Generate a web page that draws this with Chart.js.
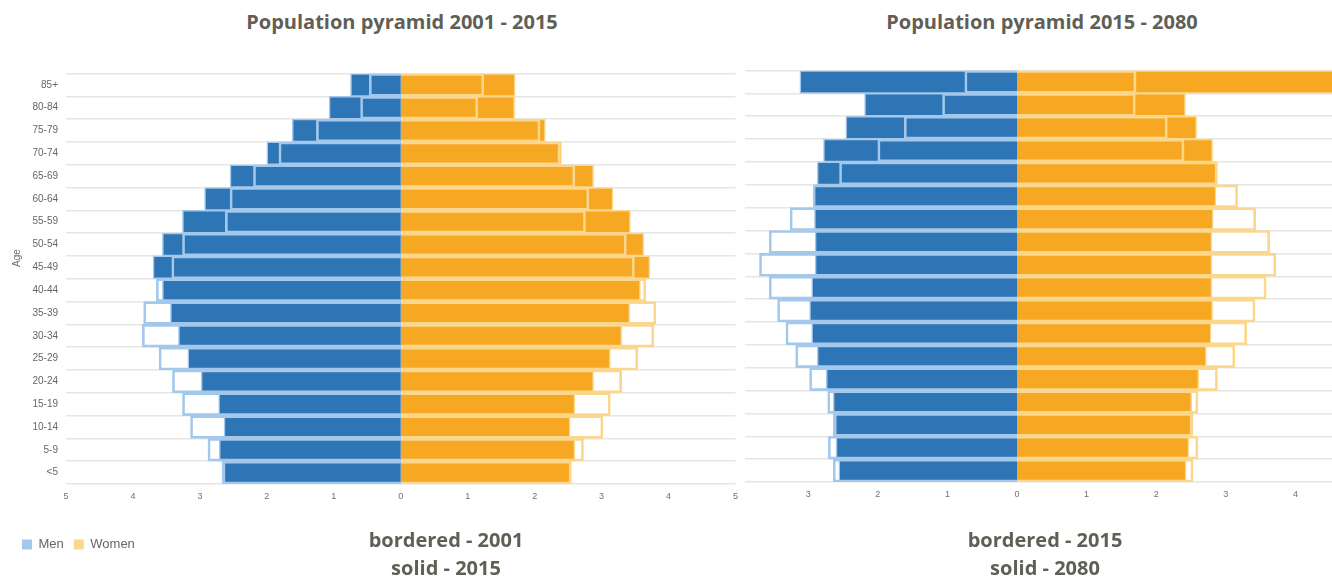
<!DOCTYPE html>
<html>
<head>
<meta charset="utf-8">
<script src="https://cdn.jsdelivr.net/npm/chart.js@4/dist/chart.umd.min.js"></script>
<style>
html,body{margin:0;padding:0;background:#fff;width:1332px;height:581px;overflow:hidden;}
#page{position:relative;width:1332px;height:581px;overflow:hidden;font-family:"Open Sans",sans-serif;}
.t{position:absolute;color:#5f5f56;font-weight:700;font-size:20px;white-space:nowrap;transform:translate(-50%,-50%);line-height:1;}
#leftWrap{position:absolute;left:0;top:0;width:745px;height:581px;}
#rightClip{position:absolute;left:745px;top:0;width:587px;height:581px;overflow:hidden;}
#rightWrap{position:absolute;left:-96px;top:0;width:726px;height:581px;}
</style>
</head>
<body>
<div id="page">
  <div class="t" style="left:402px;top:22px;">Population pyramid 2001 - 2015</div>
  <div class="t" style="left:1042px;top:22px;">Population pyramid 2015 - 2080</div>
  <div id="leftWrap"><canvas id="left"></canvas></div>
  <div id="rightClip"><div id="rightWrap"><canvas id="right"></canvas></div></div>
  <div class="t" style="left:446px;top:540px;">bordered - 2001</div>
  <div class="t" style="left:446px;top:568px;">solid - 2015</div>
  <div class="t" style="left:1045px;top:540px;">bordered - 2015</div>
  <div class="t" style="left:1045px;top:568px;">solid - 2080</div>
</div>
<script>
const ageGroups = ['85+','80-84','75-79','70-74','65-69','60-64','55-59','50-54','45-49','40-44','35-39','30-34','25-29','20-24','15-19','10-14','5-9','<5'];
const xTicks = [-5,-4,-3,-2,-1,0,1,2,3,4,5];

const men2001   = [0.47,0.60,1.26,1.82,2.20,2.55,2.62,3.26,3.42,3.65,3.84,3.86,3.61,3.41,3.26,3.14,2.88,2.67];
const women2001 = [1.24,1.15,2.08,2.38,2.60,2.81,2.76,3.37,3.49,3.66,3.81,3.78,3.54,3.30,3.13,3.02,2.73,2.55];
const men2015   = [0.75,1.07,1.62,2.00,2.55,2.93,3.26,3.56,3.70,3.56,3.44,3.32,3.18,2.98,2.72,2.64,2.71,2.64];
const women2015 = [1.71,1.70,2.16,2.40,2.88,3.17,3.43,3.63,3.72,3.58,3.42,3.30,3.13,2.88,2.60,2.53,2.60,2.53];
const men2080   = [3.12,2.19,2.46,2.78,2.87,2.92,2.91,2.90,2.90,2.95,2.98,2.95,2.87,2.74,2.64,2.61,2.60,2.56];
const women2080 = [4.85,2.42,2.58,2.81,2.86,2.86,2.82,2.80,2.80,2.80,2.81,2.79,2.72,2.61,2.51,2.50,2.47,2.43];

const seriesNames = ['Men','Women'];

const C = {
  men:'#2e75b6', menLight:'#a3c8ec',
  women:'#f7a823', womenLight:'#fbd78e',
  grid:'#e6e6e6', tick:'#707070'
};

function datasets(menOld, womenOld, menNew, womenNew){
  return [
    {label:seriesNames[0]+' old', data:menOld.map(v=>-v), backgroundColor:'rgba(255,255,255,0)', borderColor:C.menLight, borderWidth:2, borderSkipped:'start'},
    {label:seriesNames[1]+' old', data:womenOld, backgroundColor:'rgba(255,255,255,0)', borderColor:C.womenLight, borderWidth:2, borderSkipped:'start'},
    {label:seriesNames[0], data:menNew.map(v=>-v), backgroundColor:C.men, borderColor:C.menLight, borderWidth:1.5, borderSkipped:'start'},
    {label:seriesNames[1], data:womenNew, backgroundColor:C.women, borderColor:C.womenLight, borderWidth:1.5, borderSkipped:'start'}
  ];
}

const ageTitle = {
  id:'ageTitle',
  afterDraw(chart, args, opts){
    if(!opts.show) return;
    const ctx = chart.ctx;
    ctx.save();
    ctx.translate(opts.x, opts.y);
    ctx.rotate(-Math.PI/2);
    ctx.font = '10px "Liberation Sans", Arial, sans-serif';
    ctx.fillStyle = C.tick;
    ctx.textAlign = 'center';
    ctx.textBaseline = 'middle';
    ctx.fillText(opts.text, 0, 0);
    ctx.restore();
  }
};

function makeChart(id, ds, cfg){
  return new Chart(document.getElementById(id), {
    type:'bar',
    data:{labels:ageGroups, datasets:ds},
    plugins:[ageTitle],
    options:{
      indexAxis:'y',
      responsive:true,
      maintainAspectRatio:false,
      animation:false,
      layout:{padding:cfg.padding},
      datasets:{bar:{categoryPercentage:1, barPercentage:1}},
      scales:{
        x:{
          stacked:false,
          min:-5, max:5,
          afterBuildTicks(scale){ scale.ticks = xTicks.map(v=>({value:v})); },
          afterFit(scale){ scale.height = 44; },
          grid:{display:false, drawTicks:false},
          border:{display:false},
          ticks:{font:{size:9, family:'"Liberation Sans", Arial, sans-serif'}, color:C.tick, padding:7, maxRotation:0, autoSkip:false,
                 callback:(v)=>String(Math.abs(v))}
        },
        y:{
          stacked:true,
          afterFit(scale){ scale.width = cfg.yWidth; },
          grid:{color:C.grid, lineWidth:1.5, drawTicks:false, offset:true},
          border:{display:false},
          ticks:{display:cfg.yLabels, font:{size:10, family:'"Liberation Sans", Arial, sans-serif'}, color:'#666', padding:8}
        }
      },
      plugins:{
        tooltip:{enabled:false},
        ageTitle:{show:cfg.yLabels, text:'Age', x:17, y:258},
        legend:{
          display:cfg.legend,
          position:'bottom',
          align:'start',
          onClick:()=>{},
          labels:{
            boxWidth:10, boxHeight:10, padding:10,
            font:{size:13, family:'"Liberation Sans", Arial, sans-serif'}, color:'#666',
            generateLabels:()=>[
              {text:seriesNames[0], fillStyle:C.menLight, strokeStyle:C.menLight, lineWidth:0, fontColor:'#666', datasetIndex:2},
              {text:seriesNames[1], fillStyle:C.womenLight, strokeStyle:C.womenLight, lineWidth:0, fontColor:'#666', datasetIndex:3}
            ]
          }
        }
      }
    }
  });
}

makeChart('left', datasets(men2001, women2001, men2015, women2015),
  {padding:{left:12, right:7, top:73.5, bottom:20}, yWidth:54, yLabels:true, legend:true});
makeChart('right', datasets(men2015, women2015, men2080, women2080),
  {padding:{left:0, right:10, top:70.5, bottom:55}, yWidth:20, yLabels:false, legend:false});
</script>
</body>
</html>
